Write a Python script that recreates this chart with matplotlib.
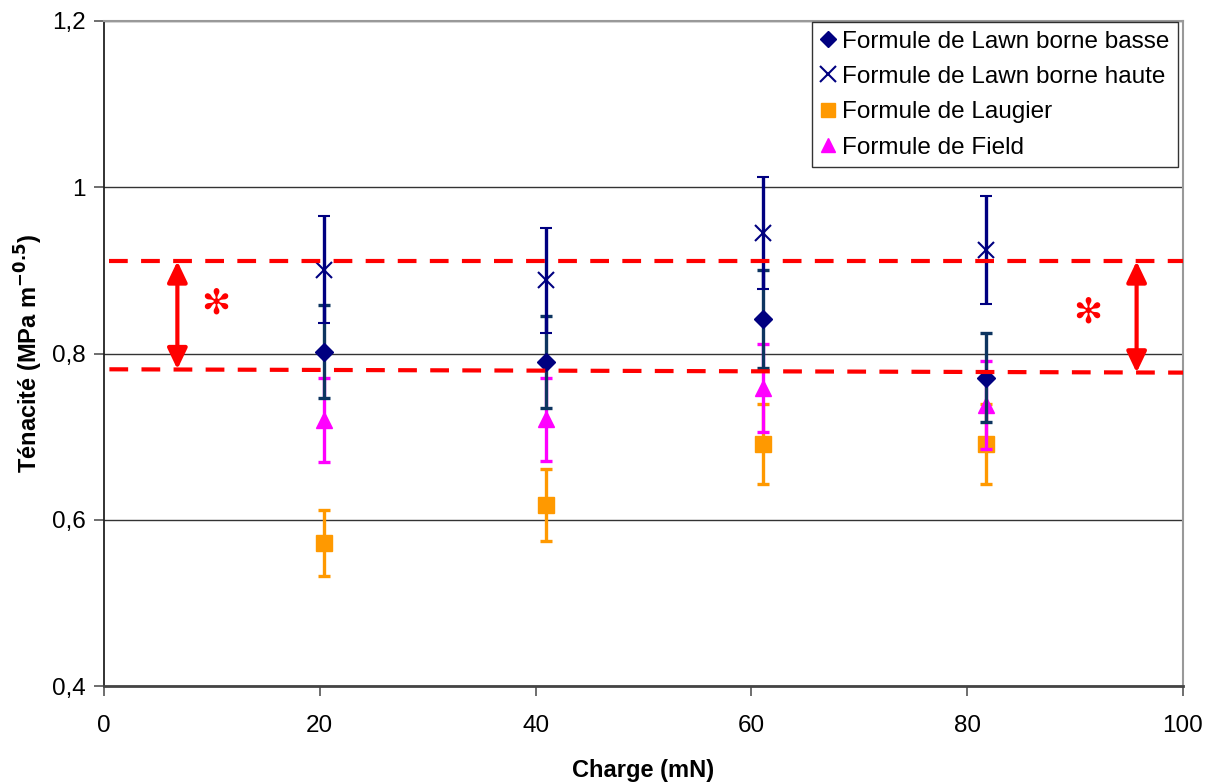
import matplotlib
matplotlib.use("Agg")
import matplotlib.pyplot as plt
from matplotlib.lines import Line2D

# ---- data ----
charge = [20.4, 41.0, 61.1, 81.7]
lawn_basse = [0.802, 0.790, 0.841, 0.771]
lawn_basse_err = [0.056, 0.055, 0.059, 0.054]
lawn_haute = [0.901, 0.888, 0.945, 0.925]
lawn_haute_err = [0.064, 0.063, 0.067, 0.065]
laugier = [0.572, 0.618, 0.691, 0.691]
laugier_err = [0.040, 0.043, 0.048, 0.048]
field = [0.720, 0.721, 0.758, 0.738]
field_err = [0.050, 0.050, 0.053, 0.053]

band_x = [0.5, 100]
band_high = [0.911, 0.911]
band_low = [0.781, 0.777]
arrow_x = [6.8, 95.7]
star_x = [10.4, 91.2]
star_y = [0.860, 0.849]

labels = ["Formule de Lawn borne basse", "Formule de Lawn borne haute",
          "Formule de Laugier", "Formule de Field"]
xticks = [0, 20, 40, 60, 80, 100]
yticks = [0.4, 0.6, 0.8, 1.0, 1.2]
ytick_labels = ["0,4", "0,6", "0,8", "1", "1,2"]

plt.rcParams['font.family'] = ['Liberation Sans', 'DejaVu Sans']

fig = plt.figure(figsize=(12.13, 7.83), dpi=100)
ax = fig.add_axes([104/1213, 1-686/783, (1183-104)/1213, (686-21)/783])

navy = "#000080"
navy_err = "#0d3560"
orange = "#FF9900"
magenta = "#FF00FF"

cap = 4.5
elw = 2.4

ax.errorbar(charge, laugier, yerr=laugier_err, fmt='s', color=orange, ms=11,
            ecolor=orange, elinewidth=elw, capsize=cap, capthick=elw, zorder=3)
ax.errorbar(charge, field, yerr=field_err, fmt='^', color=magenta, ms=11,
            ecolor=magenta, elinewidth=elw, capsize=cap, capthick=elw, zorder=4)
ax.errorbar(charge, lawn_basse, yerr=lawn_basse_err, fmt='D', color=navy, ms=9,
            ecolor=navy_err, elinewidth=elw, capsize=cap, capthick=elw, zorder=5)
ax.errorbar(charge, lawn_haute, yerr=lawn_haute_err, fmt='x', color=navy, ms=11,
            mew=1.5, ecolor=navy, elinewidth=elw, capsize=cap, capthick=elw, zorder=6)

# red dashed band
ax.plot(band_x, band_high, color="red", lw=3, ls=(0, (4.5, 3.2)), zorder=7)
ax.plot(band_x, band_low, color="red", lw=3, ls=(0, (4.5, 3.2)), zorder=7)
for i, xa in enumerate(arrow_x):
    ax.annotate("", xy=(xa, band_high[0]), xytext=(xa, band_low[0] if i == 0 else band_low[1]),
                arrowprops=dict(arrowstyle="<|-|>,head_length=0.42,head_width=0.2",
                                color="red", lw=3.0,
                                mutation_scale=30, shrinkA=0, shrinkB=0), zorder=8)
for sx, sy in zip(star_x, star_y):
    ax.text(sx, sy, "\u273B", color="red", fontsize=25, ha="center", va="center",
            family=["DejaVu Sans"], zorder=8)

ax.set_xlim(0, 100)
ax.set_ylim(0.4, 1.2)
ax.set_xticks(xticks)
ax.set_xticklabels([str(t) for t in xticks])
ax.set_yticks(yticks)
ax.set_yticklabels(ytick_labels)
ax.tick_params(axis='both', labelsize=17.5, direction='out', length=7, width=1.2,
               color="#555555", pad=6)
ax.tick_params(axis='x', pad=14)
ax.grid(axis='y', color="#333333", lw=1.0, zorder=0)
ax.set_axisbelow(True)
for s in ["top", "right"]:
    ax.spines[s].set_color("#999999")
    ax.spines[s].set_linewidth(1.5)
ax.spines["left"].set_color("#222222")
ax.spines["bottom"].set_color("#444444")
ax.spines["left"].set_linewidth(1.3)
ax.spines["bottom"].set_linewidth(2)

ax.set_xlabel("Charge (mN)", fontsize=17, fontweight="bold", labelpad=16)
ax.set_ylabel("Ténacité (MPa m$^{\\mathbf{-0.5}}$)", fontsize=17, fontweight="bold", labelpad=5)

handles = [
    Line2D([], [], marker='D', color=navy, ls='none', ms=8),
    Line2D([], [], marker='x', color=navy, ls='none', ms=11, mew=1.5),
    Line2D([], [], marker='s', color=orange, ls='none', ms=10),
    Line2D([], [], marker='^', color=magenta, ls='none', ms=10),
]
leg = ax.legend(handles, labels, loc="upper right", bbox_to_anchor=(0.9955, 0.9985),
                fontsize=17.5, frameon=True, fancybox=False, handlelength=0.6,
                handletextpad=0.3, borderpad=0.35, labelspacing=0.55,
                borderaxespad=0.0)
leg.get_frame().set_edgecolor("black")
leg.get_frame().set_linewidth(1.0)

fig.savefig("out.png", dpi=100)
